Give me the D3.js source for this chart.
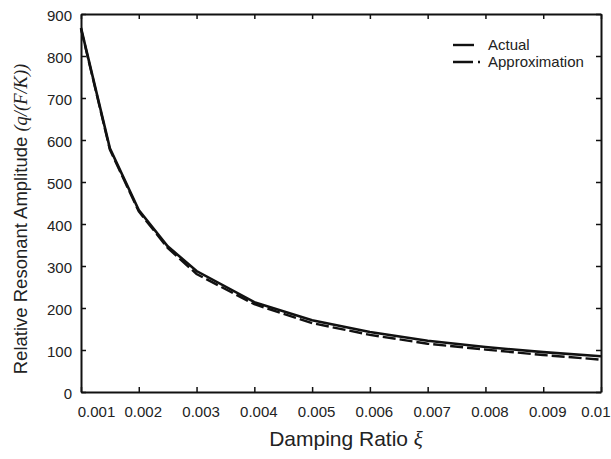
<!DOCTYPE html>
<html>
<head>
<meta charset="utf-8">
<script src="https://cdn.jsdelivr.net/npm/d3@7"></script>
<style>
  body { margin: 0; background: #fff; }
  svg { font-family: "Liberation Sans", Arial, Helvetica, sans-serif; }
  .it { font-family: "Liberation Serif", "Times New Roman", serif; font-style: italic; }
</style>
</head>
<body>
<div id="chart"></div>
<script>
// damping ratio samples and amplitudes
var ratios = [0.001, 0.0015, 0.002, 0.0025, 0.003, 0.004, 0.005, 0.006, 0.007, 0.008, 0.009, 0.01];
var actual = [867, 580, 433, 347, 288, 214, 171, 143, 122, 107, 95, 85];
var approx = [865, 577, 430, 343, 281, 209, 164, 136, 115, 101, 88, 77];
var xTicks = [0.001, 0.002, 0.003, 0.004, 0.005, 0.006, 0.007, 0.008, 0.009, 0.01];
var xTickLabels = ["0.001", "0.002", "0.003", "0.004", "0.005", "0.006", "0.007", "0.008", "0.009", "0.01"];
var yTicks = [0, 100, 200, 300, 400, 500, 600, 700, 800, 900];
var seriesNames = ["Actual", "Approximation"];

var W = 611, H = 459;
var margin = {top: 14, right: 10, bottom: 67, left: 81};

var svg = d3.select("#chart").append("svg")
  .attr("width", W)
  .attr("height", H);

var x = d3.scaleLinear().domain([0.001, 0.01]).range([margin.left, W - margin.right]);
var y = d3.scaleLinear().domain([0, 900]).range([H - margin.bottom, margin.top]);

var last = xTicks.length - 1;

// axes, ticks pointing inward on all four sides
var bottom = svg.append("g")
  .attr("transform", "translate(0," + y(0) + ")")
  .call(d3.axisBottom(x).tickValues(xTicks).tickSizeInner(-5).tickSizeOuter(0).tickPadding(14)
    .tickFormat(function(d, i){ return xTickLabels[i]; }));
bottom.selectAll("text")
  .attr("dx", function(d, i){ return i === 0 ? 15 : (i === last ? 9 : 4); })
  .attr("text-anchor", function(d, i){ return i === last ? "end" : "middle"; });

var left = svg.append("g")
  .attr("transform", "translate(" + x(0.001) + ",0)")
  .call(d3.axisLeft(y).tickValues(yTicks).tickSizeInner(-5).tickSizeOuter(0).tickPadding(9));
left.selectAll("text").attr("dy", "0.45em");

svg.append("g")
  .attr("transform", "translate(0," + y(900) + ")")
  .call(d3.axisTop(x).tickValues(xTicks).tickSizeInner(-5).tickSizeOuter(0).tickFormat(""));

svg.append("g")
  .attr("transform", "translate(" + x(0.01) + ",0)")
  .call(d3.axisRight(y).tickValues(yTicks).tickSizeInner(-5).tickSizeOuter(0).tickFormat(""));

svg.selectAll(".domain").attr("stroke", "#111").attr("stroke-width", 2);
svg.selectAll(".tick line").attr("stroke", "#111").attr("stroke-width", 1.5);
svg.selectAll(".tick text").attr("fill", "#222").style("font-size", "15px");

// curves
var line = d3.line()
  .x(function(d){ return x(d[0]); })
  .y(function(d){ return y(d[1]); });

svg.append("path")
  .datum(d3.zip(ratios, approx))
  .attr("d", line)
  .attr("fill", "none")
  .attr("stroke", "#111")
  .attr("stroke-width", 2.4)
  .attr("stroke-dasharray", "13,4");

svg.append("path")
  .datum(d3.zip(ratios, actual))
  .attr("d", line)
  .attr("fill", "none")
  .attr("stroke", "#111")
  .attr("stroke-width", 2.6);

// legend
var legend = svg.append("g").attr("transform", "translate(453,45)");
var items = legend.selectAll("g").data(seriesNames).enter().append("g")
  .attr("transform", function(d, i){ return "translate(0," + (i * 17) + ")"; });
items.append("line")
  .attr("x1", 0)
  .attr("x2", function(d, i){ return i === 0 ? 21 : 27; })
  .attr("stroke", "#111")
  .attr("stroke-width", 2.4)
  .attr("stroke-dasharray", function(d, i){ return i === 0 ? null : "20,5"; });
items.append("text")
  .attr("x", 35)
  .attr("dy", "0.36em")
  .style("font-size", "15px")
  .attr("fill", "#222")
  .text(function(d){ return d; });

// axis titles
var xt = svg.append("text")
  .attr("x", 346)
  .attr("y", 446)
  .attr("text-anchor", "middle")
  .style("font-size", "21px")
  .attr("fill", "#222");
xt.append("tspan").text("Damping Ratio ");
xt.append("tspan").attr("class", "it").text("ξ");

var yt = svg.append("text")
  .attr("transform", "translate(27,219) rotate(-90)")
  .attr("text-anchor", "middle")
  .style("font-size", "18.5px")
  .attr("fill", "#222");
yt.append("tspan").text("Relative Resonant Amplitude ");
yt.append("tspan").attr("class", "it").text("(q/(F/K))");
</script>
</body>
</html>
